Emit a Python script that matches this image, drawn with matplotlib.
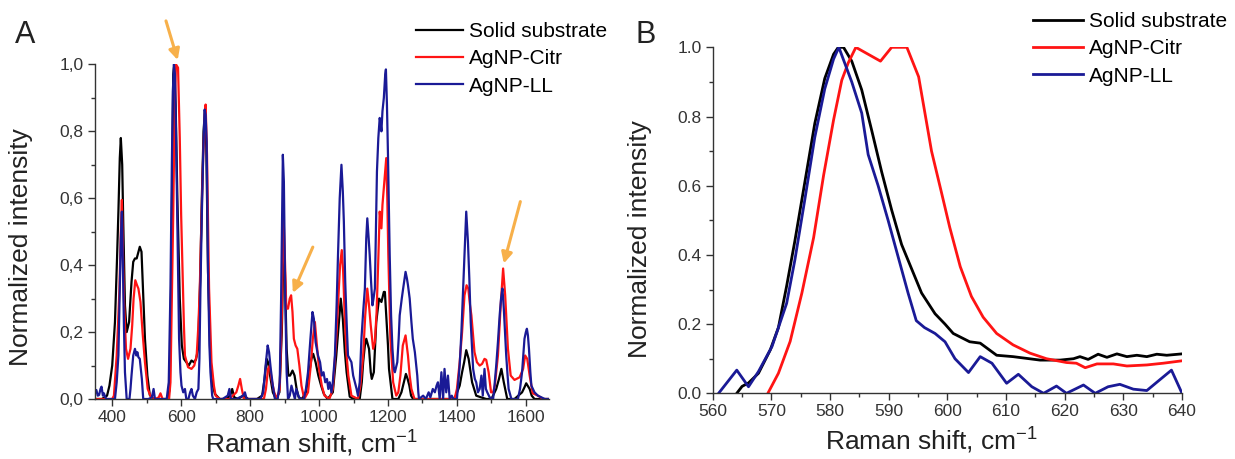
import matplotlib
matplotlib.use("Agg")
import matplotlib.pyplot as plt
from matplotlib.ticker import MultipleLocator, FuncFormatter

plt.rcParams['font.family'] = ['Liberation Sans', 'DejaVu Sans']
plt.rcParams['mathtext.default'] = 'regular'

labels = ['Solid substrate', 'AgNP-Citr', 'AgNP-LL']
colors = ['black', '#ff1414', '#1a1a96']

# ---- panel A: full spectra ----
a_solid_x = [350, 370, 385, 392, 400, 408, 414, 418, 422, 425, 429, 432, 437, 442, 449, 456, 461, 466, 471,
             476, 480, 485, 490, 495, 502, 509, 520, 540, 560, 567, 572, 577, 580, 584, 589, 596, 602, 608,
             615, 622, 630, 637, 643, 649, 655, 660, 665, 669, 673, 678, 685, 692, 698, 712, 730, 742, 748,
             754, 765, 780, 795, 820, 835, 842, 848, 852, 858, 866, 875, 885, 892, 897, 901, 906, 911, 916,
             923, 929, 935, 941, 950, 962, 970, 978, 983, 990, 998, 1006, 1014, 1025, 1040, 1050, 1057,
             1063, 1069, 1075, 1080, 1089, 1100, 1118, 1124, 1128, 1133, 1137, 1145, 1150, 1153, 1159,
             1166, 1174, 1181, 1188, 1191, 1195, 1200, 1203, 1213, 1230, 1239, 1246, 1252, 1257, 1262,
             1267, 1273, 1300, 1340, 1393, 1408, 1415, 1421, 1427, 1434, 1444, 1456, 1470, 1485, 1500,
             1514, 1522, 1529, 1536, 1546, 1567, 1589, 1596, 1601, 1605, 1611, 1617, 1625, 1667]
a_solid_y = [0.0, 0.0, 0.01, 0.04, 0.10, 0.23, 0.42, 0.56, 0.72, 0.78, 0.70, 0.53, 0.28, 0.20, 0.23, 0.35,
             0.41, 0.42, 0.42, 0.44, 0.455, 0.44, 0.31, 0.18, 0.07, 0.012, 0.0, 0.0, 0.0, 0.03, 0.43, 0.97,
             1.0, 0.88, 0.60, 0.30, 0.16, 0.12, 0.11, 0.10, 0.115, 0.11, 0.118, 0.15, 0.35, 0.60, 0.80,
             0.86, 0.75, 0.38, 0.11, 0.04, 0.015, 0.0, 0.0, 0.01, 0.03, 0.005, 0.0, 0.01, 0.0, 0.0, 0.01,
             0.06, 0.12, 0.11, 0.07, 0.02, 0.0, 0.02, 0.20, 0.45, 0.38, 0.15, 0.07, 0.07, 0.085, 0.07,
             0.03, 0.005, 0.0, 0.02, 0.07, 0.12, 0.135, 0.11, 0.07, 0.04, 0.015, 0.0, 0.02, 0.13, 0.22,
             0.30, 0.24, 0.14, 0.08, 0.007, 0.0, 0.0, 0.05, 0.11, 0.16, 0.18, 0.15, 0.08, 0.06, 0.08,
             0.23, 0.30, 0.29, 0.32, 0.32, 0.25, 0.16, 0.09, 0.0, 0.0, 0.02, 0.05, 0.075, 0.06, 0.04,
             0.01, 0.0, 0.0, 0.0, 0.0, 0.04, 0.08, 0.11, 0.146, 0.12, 0.05, 0.01, 0.005, 0.0, 0.0,
             0.03, 0.06, 0.09, 0.05, 0.0, 0.0, 0.02, 0.035, 0.047, 0.04, 0.03, 0.01, 0.0, 0.0]

a_citr_x = [350, 400, 405, 413, 418, 421, 425, 428, 431, 434, 440, 446, 453, 458, 462, 467, 472, 476, 482,
            488, 495, 503, 512, 525, 535, 540, 546, 565, 569, 573, 577, 581, 585, 591, 596, 600, 604, 608,
            611, 620, 630, 638, 645, 650, 654, 660, 664, 668, 671, 675, 681, 688, 695, 700, 712, 740, 750,
            760, 766, 771, 776, 782, 800, 840, 846, 852, 857, 862, 870, 878, 886, 892, 897, 901, 905, 910,
            915, 919, 923, 927, 932, 937, 943, 949, 957, 968, 976, 982, 988, 993, 1000, 1008, 1016, 1030,
            1040, 1050, 1056, 1061, 1066, 1070, 1075, 1080, 1085, 1094, 1113, 1120, 1128, 1134, 1140,
            1145, 1150, 1157, 1162, 1167, 1172, 1176, 1181, 1184, 1188, 1195, 1198, 1201, 1207, 1215,
            1224, 1230, 1236, 1243, 1251, 1258, 1263, 1268, 1277, 1300, 1393, 1400, 1408, 1415, 1422,
            1428, 1433, 1438, 1442, 1451, 1458, 1466, 1473, 1480, 1485, 1492, 1499, 1505, 1510, 1519,
            1527, 1534, 1540, 1548, 1556, 1567, 1582, 1592, 1598, 1604, 1611, 1620, 1635, 1650, 1667]
a_citr_y = [0.0, 0.0, 0.01, 0.13, 0.25, 0.33, 0.50, 0.595, 0.45, 0.30, 0.15, 0.12, 0.15, 0.22, 0.30, 0.355,
            0.34, 0.33, 0.29, 0.20, 0.11, 0.03, 0.007, 0.0, 0.005, 0.017, 0.0, 0.0, 0.05, 0.30, 0.55, 0.85,
            1.0, 0.99, 0.78, 0.55, 0.38, 0.22, 0.13, 0.095, 0.09, 0.10, 0.13, 0.22, 0.33, 0.58, 0.73, 0.84,
            0.88, 0.73, 0.33, 0.11, 0.04, 0.01, 0.0, 0.0, 0.01, 0.02, 0.04, 0.06, 0.03, 0.0, 0.0, 0.0,
            0.03, 0.09, 0.10, 0.06, 0.02, 0.0, 0.03, 0.25, 0.55, 0.42, 0.27, 0.27, 0.30, 0.31, 0.26, 0.18,
            0.16, 0.15, 0.10, 0.04, 0.0, 0.02, 0.10, 0.18, 0.23, 0.17, 0.09, 0.04, 0.01, 0.0, 0.03, 0.18,
            0.30, 0.40, 0.445, 0.38, 0.23, 0.13, 0.07, 0.01, 0.0, 0.04, 0.13, 0.25, 0.33, 0.28, 0.22,
            0.15, 0.17, 0.26, 0.42, 0.56, 0.51, 0.58, 0.63, 0.72, 0.60, 0.43, 0.18, 0.05, 0.01, 0.02,
            0.07, 0.16, 0.19, 0.13, 0.07, 0.03, 0.0, 0.0, 0.0, 0.03, 0.11, 0.20, 0.31, 0.34, 0.33, 0.28,
            0.25, 0.14, 0.11, 0.10, 0.105, 0.12, 0.117, 0.08, 0.02, 0.02, 0.04, 0.13, 0.28, 0.39, 0.31,
            0.15, 0.07, 0.057, 0.065, 0.09, 0.13, 0.12, 0.07, 0.017, 0.01, 0.0, 0.0]

a_ll_x = [350, 354, 358, 362, 366, 369, 373, 376, 380, 384, 408, 413, 418, 422, 425, 428, 431, 434, 437,
          442, 450, 453, 456, 461, 466, 470, 473, 476, 480, 483, 486, 490, 505, 515, 520, 524, 535, 558,
          564, 569, 573, 576, 579, 582, 585, 589, 594, 598, 601, 606, 611, 615, 621, 626, 630, 634, 640,
          645, 650, 653, 656, 660, 664, 668, 671, 674, 678, 682, 685, 690, 693, 720, 735, 740, 744, 760,
          780, 785, 790, 830, 838, 845, 851, 855, 860, 866, 872, 880, 886, 890, 895, 898, 902, 906, 910,
          915, 920, 925, 930, 934, 940, 945, 956, 962, 968, 975, 981, 985, 990, 997, 1003, 1008, 1013,
          1018, 1023, 1027, 1031, 1036, 1040, 1046, 1051, 1055, 1060, 1065, 1069, 1072, 1076, 1080,
          1084, 1089, 1094, 1099, 1104, 1109, 1113, 1118, 1123, 1128, 1133, 1137, 1140, 1144, 1147,
          1151, 1155, 1158, 1162, 1165, 1168, 1172, 1176, 1179, 1181, 1184, 1188, 1192, 1194, 1197,
          1200, 1205, 1209, 1213, 1217, 1220, 1227, 1231, 1234, 1240, 1244, 1251, 1255, 1258, 1263,
          1268, 1272, 1278, 1282, 1285, 1288, 1290, 1302, 1310, 1318, 1323, 1330, 1336, 1341, 1345,
          1350, 1355, 1360, 1364, 1369, 1374, 1379, 1385, 1390, 1400, 1408, 1413, 1418, 1423, 1427,
          1432, 1436, 1440, 1447, 1452, 1456, 1461, 1466, 1471, 1475, 1480, 1484, 1488, 1495, 1505,
          1509, 1514, 1519, 1524, 1528, 1532, 1536, 1540, 1543, 1547, 1550, 1558, 1577, 1583, 1589,
          1596, 1600, 1603, 1606, 1609, 1613, 1616, 1625, 1635, 1645, 1655, 1667]
a_ll_y = [0.017, 0.027, 0.01, 0.012, 0.03, 0.037, 0.01, 0.017, 0.005, 0.0, 0.0, 0.05, 0.13, 0.33, 0.48,
          0.56, 0.40, 0.22, 0.08, 0.0, 0.0, 0.03, 0.07, 0.13, 0.15, 0.13, 0.14, 0.125, 0.12, 0.09, 0.06,
          0.0, 0.0, 0.005, 0.03, 0.0, 0.0, 0.0, 0.05, 0.33, 0.70, 0.92, 1.0, 0.97, 0.80, 0.53, 0.18, 0.08,
          0.04, 0.02, 0.03, 0.0, 0.0, 0.02, 0.03, 0.01, 0.0, 0.02, 0.03, 0.12, 0.33, 0.55, 0.73, 0.865,
          0.85, 0.77, 0.38, 0.16, 0.08, 0.01, 0.0, 0.0, 0.01, 0.03, 0.0, 0.0, 0.01, 0.02, 0.0, 0.0, 0.02,
          0.10, 0.16, 0.14, 0.09, 0.04, 0.0, 0.0, 0.05, 0.30, 0.73, 0.65, 0.30, 0.08, 0.0, 0.01, 0.04,
          0.02, 0.0, 0.03, 0.01, 0.0, 0.0, 0.03, 0.08, 0.18, 0.26, 0.24, 0.17, 0.13, 0.11, 0.07, 0.08,
          0.05, 0.06, 0.03, 0.05, 0.02, 0.05, 0.13, 0.28, 0.43, 0.60, 0.70, 0.62, 0.53, 0.35, 0.23, 0.13,
          0.12, 0.11, 0.07, 0.05, 0.03, 0.01, 0.05, 0.18, 0.26, 0.33, 0.48, 0.54, 0.48, 0.43, 0.35, 0.28,
          0.30, 0.33, 0.50, 0.68, 0.78, 0.84, 0.82, 0.80, 0.86, 0.90, 0.97, 0.985, 0.88, 0.73, 0.43,
          0.25, 0.15, 0.09, 0.08, 0.11, 0.18, 0.25, 0.30, 0.33, 0.38, 0.36, 0.34, 0.30, 0.23, 0.18, 0.14,
          0.10, 0.07, 0.02, 0.0, 0.01, 0.0, 0.02, 0.005, 0.03, 0.02, 0.04, 0.05, 0.0, 0.08, 0.0, 0.09,
          0.02, 0.07, 0.0, 0.01, 0.0, 0.0, 0.10, 0.20, 0.33, 0.46, 0.56, 0.47, 0.36, 0.23, 0.09, 0.06,
          0.05, 0.02, 0.03, 0.07, 0.01, 0.09, 0.03, 0.02, 0.005, 0.0, 0.04, 0.10, 0.17, 0.25, 0.30, 0.33,
          0.27, 0.19, 0.13, 0.07, 0.03, 0.0, 0.0, 0.03, 0.08, 0.18, 0.20, 0.21, 0.19, 0.15, 0.08, 0.04,
          0.02, 0.01, 0.005, 0.0, 0.0]

# ---- panel B: zoom on the ~580 cm-1 band ----
b_solid_x = [564.1, 565.0, 566.1, 567.8, 569.8, 571.2, 572.6, 574.0, 575.7, 577.4, 579.1, 580.6, 581.4,
             582.3, 583.7, 585.4, 587.1, 588.8, 590.5, 592.2, 593.9, 595.6, 597.9, 599.6, 601.0, 603.8,
             605.6, 608.4, 611.2, 615.8, 619.2, 621.5, 622.6, 624.0, 625.7, 627.2, 628.9, 630.6, 632.3,
             634.0, 635.7, 637.4, 640.0]
b_solid_y = [0.0, 0.02, 0.03, 0.058, 0.125, 0.19, 0.31, 0.44, 0.61, 0.78, 0.91, 0.98, 1.0, 1.0, 0.96,
             0.877, 0.76, 0.64, 0.53, 0.43, 0.36, 0.29, 0.23, 0.20, 0.173, 0.149, 0.145, 0.11, 0.106,
             0.096, 0.096, 0.10, 0.106, 0.098, 0.113, 0.104, 0.114, 0.106, 0.11, 0.106, 0.113, 0.11,
             0.114]

b_citr_x = [569.4, 571.2, 573.2, 575.2, 577.2, 578.9, 580.6, 582.0, 583.1, 584.4, 586.5, 588.6, 590.5,
            593.1, 595.1, 597.3, 599.0, 600.4, 602.2, 604.1, 606.1, 608.4, 611.2, 614.1, 616.9, 620.3,
            622.0, 623.5, 625.5, 628.3, 630.6, 634.0, 636.8, 640.0]
b_citr_y = [0.0, 0.058, 0.15, 0.29, 0.45, 0.63, 0.79, 0.905, 0.955, 1.0, 0.98, 0.96, 1.0, 1.0, 0.915,
            0.70, 0.58, 0.48, 0.366, 0.28, 0.22, 0.173, 0.14, 0.116, 0.10, 0.089, 0.087, 0.074, 0.085,
            0.085, 0.079, 0.082, 0.087, 0.094]

b_ll_x = [561.0, 564.1, 566.1, 567.8, 570.1, 572.6, 574.0, 575.7, 577.4, 579.1, 580.6, 581.5, 583.7,
          585.4, 586.5, 588.2, 589.9, 591.6, 593.3, 594.7, 596.1, 597.9, 599.6, 601.3, 603.6, 605.6,
          607.6, 610.1, 612.1, 614.4, 616.4, 618.6, 620.3, 623.2, 625.2, 627.4, 629.4, 631.7, 634.0,
          636.2, 638.2, 640.0]
b_ll_y = [0.0, 0.067, 0.019, 0.063, 0.135, 0.26, 0.385, 0.56, 0.74, 0.88, 0.966, 1.0, 0.90, 0.81, 0.69,
          0.60, 0.50, 0.395, 0.29, 0.21, 0.19, 0.173, 0.149, 0.10, 0.06, 0.106, 0.087, 0.029, 0.055,
          0.019, 0.0, 0.021, 0.0, 0.024, 0.0, 0.019, 0.026, 0.012, 0.008, 0.039, 0.067, 0.0]

# arrows in panel A: (tail x, tail y, head x, head y)
arrows = [(556, 1.13, 590, 1.013), (982, 0.454, 924, 0.317), (1584, 0.59, 1536, 0.405)]

fig = plt.figure(figsize=(12.35, 4.59), dpi=100)
axA = fig.add_axes([0.0769, 0.1307, 0.3676, 0.729])
axB = fig.add_axes([0.5771, 0.1431, 0.380, 0.7538])

for x, y, c, lab in zip([a_solid_x, a_citr_x, a_ll_x], [a_solid_y, a_citr_y, a_ll_y], colors, labels):
    axA.plot(x, y, color=c, lw=1.6, label=lab)
for x, y, c, lab in zip([b_solid_x, b_citr_x, b_ll_x], [b_solid_y, b_citr_y, b_ll_y], colors, labels):
    axB.plot(x, y, color=c, lw=2.0, label=lab)

for tx, ty, hx, hy in arrows:
    axA.annotate('', xy=(hx, hy), xytext=(tx, ty), annotation_clip=False,
                 arrowprops=dict(arrowstyle='-|>', color='#f7b04a', lw=2.2,
                                 mutation_scale=16, shrinkA=0, shrinkB=0))

axA.set_xlim(350, 1667)
axA.set_ylim(0, 1.0)
axA.xaxis.set_major_locator(MultipleLocator(200))
axA.xaxis.set_minor_locator(MultipleLocator(100))
axA.yaxis.set_major_locator(MultipleLocator(0.2))
axA.yaxis.set_minor_locator(MultipleLocator(0.1))
axA.yaxis.set_major_formatter(FuncFormatter(lambda v, p: f'{v:.1f}'.replace('.', ',')))

axB.set_xlim(560, 640)
axB.set_ylim(0, 1.0)
axB.xaxis.set_major_locator(MultipleLocator(10))
axB.xaxis.set_minor_locator(MultipleLocator(5))
axB.yaxis.set_major_locator(MultipleLocator(0.2))
axB.yaxis.set_minor_locator(MultipleLocator(0.1))
axB.yaxis.set_major_formatter(FuncFormatter(lambda v, p: f'{v:.1f}'))

for ax in (axA, axB):
    for s in ('top', 'right'):
        ax.spines[s].set_visible(False)
    for s in ('left', 'bottom'):
        ax.spines[s].set_color('#333333')
        ax.spines[s].set_linewidth(1.0)
    ax.tick_params(which='major', direction='out', length=5, width=1, colors='#333333',
                   labelsize=12.5, labelcolor='#333333', pad=3)
    ax.tick_params(which='minor', direction='out', length=3, width=1, colors='#333333')
    ax.set_ylabel('Normalized intensity', fontsize=19, color='#222222')
    ax.set_xlabel('Raman shift, cm$^{-1}$', fontsize=19, color='#222222')

axA.yaxis.set_label_coords(-0.137, 0.454)
axA.xaxis.set_label_coords(0.476, -0.088)
axB.yaxis.set_label_coords(-0.129, 0.446)
axB.xaxis.set_label_coords(0.467, -0.095)

W, H = 1235, 459
fig.legend(*axA.get_legend_handles_labels(), loc='upper left', bbox_to_anchor=(416 / W, 1 - 22 / H),
           frameon=False, fontsize=15, handlelength=2.25, handletextpad=0.3, labelspacing=0.4,
           borderpad=0, borderaxespad=0)
fig.legend(*axB.get_legend_handles_labels(), loc='upper left', bbox_to_anchor=(1033 / W, 1 - 12 / H),
           frameon=False, fontsize=15, handlelength=2.4, handletextpad=0.3, labelspacing=0.4,
           borderpad=0, borderaxespad=0)

fig.text(15 / W, 1 - 20 / H, 'A', fontsize=22, ha='left', va='top', color='#222222')
fig.text(635 / W, 1 - 20 / H, 'B', fontsize=22, ha='left', va='top', color='#222222')

fig.savefig('out.png', dpi=100)
